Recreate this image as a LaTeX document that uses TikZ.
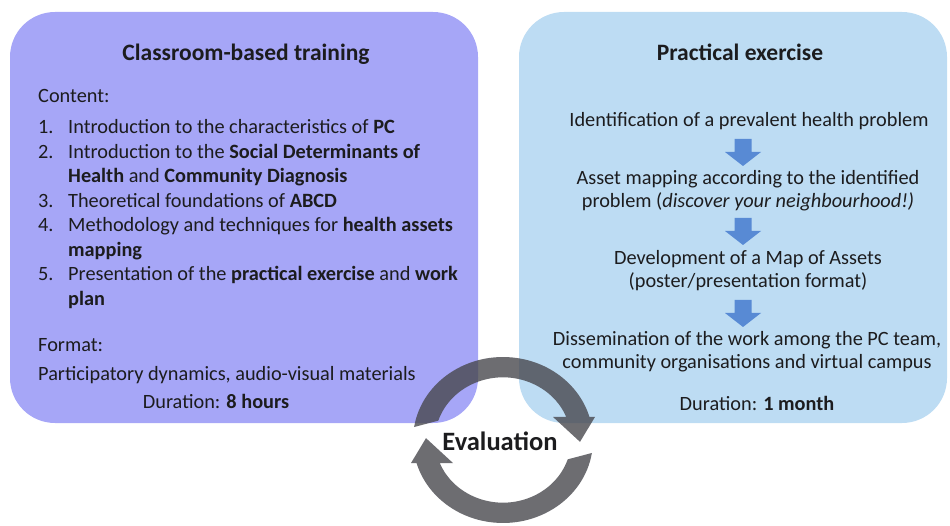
\documentclass[tikz,border=0pt]{standalone}
\usepackage{fontspec}
\setmainfont{Carlito}
\usetikzlibrary{calc}
\definecolor{lav}{RGB}{166,166,247}
\definecolor{lblue}{RGB}{189,220,243}
\definecolor{arrblue}{RGB}{88,138,212}
\definecolor{ringgray}{RGB}{72,72,78}
\definecolor{txt}{RGB}{28,28,30}
\newcommand\blockarrow[2]{%
  \fill[arrblue] (#1-8.5,#2) -- (#1+8.5,#2) -- (#1+8.5,#2+13) -- (#1+18,#2+13)
    -- (#1,#2+27) -- (#1-18,#2+13) -- (#1-8.5,#2+13) -- cycle;}
\newcommand\ringarrow{%
  \fill[ringgray, opacity=0.8] (171:90) arc[start angle=171, end angle=16.1, radius=90]
    -- (92,25) -- (77,-2) -- (50,25) -- (63.2,25)
    arc[start angle=21.6, end angle=162, radius=68] -- cycle;}
\begin{document}
\begin{tikzpicture}[x=1pt,y=-1pt,
  body/.style={inner sep=0pt, text=txt, font=\fontsize{20.3}{24}\selectfont},
  ttl/.style={inner sep=0pt, text=txt, font=\fontsize{23.5}{28}\selectfont\bfseries},
  lft/.style={body, anchor=base west},
  ctr/.style={body, anchor=base}]
\useasboundingbox (0,0) rectangle (950,526);
\fill[lav, rounded corners=45pt] (10,12) rectangle (478,423);
\fill[lblue, rounded corners=45pt] (519,12) rectangle (947,423);

% left box
\node[ttl, anchor=base] (ltitle) at (246,61) {Classroom-based training};
\node[lft] (cont) at (38,103) {Content:};
\node[lft] (n1) at (38,134) {1.};
\node[lft] (i1) at (68,134) {Introduction to the characteristics of \textbf{PC}};
\node[lft] (n2) at (38,158.5) {2.};
\node[lft] (i2a) at (68,158.5) {Introduction to the \textbf{Social Determinants of}};
\node[lft] (i2b) at (68,183) {\textbf{Health} and \textbf{Community Diagnosis}};
\node[lft] (n3) at (38,207.5) {3.};
\node[lft] (i3) at (68,207.5) {Theoretical foundations of \textbf{ABCD}};
\node[lft] (n4) at (38,232) {4.};
\node[lft] (i4a) at (68,232) {Methodology and techniques for \textbf{health assets}};
\node[lft] (i4b) at (68,256.5) {\textbf{mapping}};
\node[lft] (n5) at (38,281) {5.};
\node[lft] (i5a) at (68,281) {Presentation of the \textbf{practical exercise} and \textbf{work}};
\node[lft] (i5b) at (68,305.5) {\textbf{plan}};
\node[lft] (fmt) at (38,352) {Format:};
\node[lft] (part) at (38,381) {Participatory dynamics, audio-visual materials};
\node[ctr] (dur1) at (216,408) {Duration: \textbf{8 hours}};

% right box
\node[ttl, anchor=base] (rtitle) at (740,61) {Practical exercise};
\node[ctr] (r1) at (749,127) {Identification of a prevalent health problem};
\node[ctr] (r2a) at (748,185) {Asset mapping according to the identified};
\node[ctr] (r2b) at (748,208) {problem (\textit{discover your neighbourhood!)}};
\node[ctr] (r3a) at (748,265) {Development of a Map of Assets};
\node[ctr] (r3b) at (748,288) {(poster/presentation format)};
\node[ctr] (r4a) at (747,345) {Dissemination of the work among the PC team,};
\node[ctr] (r4b) at (747,368) {community organisations and virtual campus};
\node[ctr] (dur2) at (757,410) {Duration: \textbf{1 month}};
\blockarrow{743}{139}
\blockarrow{743}{218}
\blockarrow{743}{300}

% evaluation cycle
\begin{scope}[shift={(503,440)}, yscale=-0.922]
  \ringarrow
  \begin{scope}[rotate=180]
    \ringarrow
  \end{scope}
\end{scope}
\node[inner sep=0pt, text=txt, font=\fontsize{26.5}{30}\selectfont\bfseries, anchor=base] (ev) at (500,450) {Evaluation};
\end{tikzpicture}
\end{document}
